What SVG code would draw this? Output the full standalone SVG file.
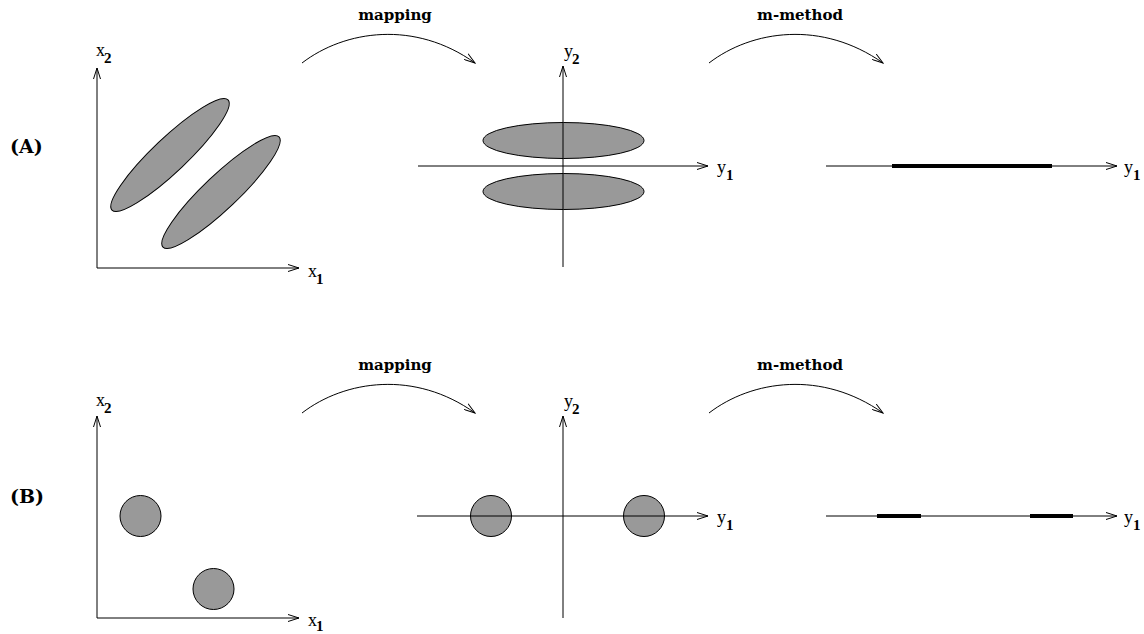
<svg xmlns="http://www.w3.org/2000/svg" width="1144" height="634" viewBox="0 0 1144 634">
<style>
.ax{stroke:#000;stroke-width:1;fill:none}
.arc{stroke:#000;stroke-width:1;fill:none}
.blob{fill:#999999;stroke:#000;stroke-width:1}
.thick{stroke:#000;stroke-width:4;fill:none}
.lbl{font-family:"DejaVu Serif","Liberation Serif",serif;font-weight:bold;font-size:19px;fill:#000}
.op{font-family:"DejaVu Serif","Liberation Serif",serif;font-weight:bold;font-size:15px;fill:#000}
.var{font-family:"Liberation Serif","DejaVu Serif",serif;font-size:18px;fill:#000}
.sub{font-family:"Liberation Serif","DejaVu Serif",serif;font-size:15px;font-weight:bold;fill:#000}
</style>
<defs>
<marker id="ah" viewBox="0 0 12 8" refX="11" refY="4" markerWidth="12" markerHeight="8" markerUnits="userSpaceOnUse" orient="auto">
<path d="M0,0.5 L11,4 L0,7.5" fill="none" stroke="#000" stroke-width="1"/>
</marker>
</defs>

<g id="labelA"><text class="lbl" x="10" y="153">(A)</text></g>
<g id="labelB"><text class="lbl" x="10" y="503">(B)</text></g>

<g id="panelA1">
<line class="ax" x1="97" y1="268" x2="97" y2="68" marker-end="url(#ah)"/>
<line class="ax" x1="97" y1="268" x2="299" y2="268" marker-end="url(#ah)"/>
<ellipse class="blob" cx="170" cy="155" rx="80" ry="17" transform="rotate(-43.5 170 155)"/>
<ellipse class="blob" cx="221" cy="192" rx="80" ry="17" transform="rotate(-43.5 221 192)"/>
<text class="var" x="96" y="56">x</text><text class="sub" x="104" y="63">2</text>
<text class="var" x="308" y="277">x</text><text class="sub" x="316" y="284">1</text>
</g>

<g id="panelA2">
<ellipse class="blob" cx="563.5" cy="140.5" rx="80.5" ry="18"/>
<ellipse class="blob" cx="563.5" cy="191.5" rx="80.5" ry="18"/>
<line class="ax" x1="563" y1="267" x2="563" y2="66" marker-end="url(#ah)"/>
<line class="ax" x1="418" y1="166" x2="708" y2="166" marker-end="url(#ah)"/>
<text class="var" x="564" y="57">y</text><text class="sub" x="572" y="64">2</text>
<text class="var" x="717" y="173">y</text><text class="sub" x="726" y="180">1</text>
</g>

<g id="panelA3">
<line class="ax" x1="826" y1="166" x2="1117" y2="166" marker-end="url(#ah)"/>
<line class="thick" x1="892" y1="166" x2="1052" y2="166"/>
<text class="var" x="1124" y="173">y</text><text class="sub" x="1133" y="180">1</text>
</g>

<g id="panelB1">
<line class="ax" x1="97" y1="618" x2="97" y2="416" marker-end="url(#ah)"/>
<line class="ax" x1="97" y1="618" x2="299" y2="618" marker-end="url(#ah)"/>
<circle class="blob" cx="140.5" cy="516" r="20.5"/>
<circle class="blob" cx="213.5" cy="589" r="20.5"/>
<text class="var" x="96" y="406">x</text><text class="sub" x="104" y="413">2</text>
<text class="var" x="308" y="626">x</text><text class="sub" x="316" y="631">1</text>
</g>

<g id="panelB2">
<circle class="blob" cx="491" cy="516" r="20.5"/>
<circle class="blob" cx="644" cy="516" r="20.5"/>
<line class="ax" x1="563" y1="618" x2="563" y2="416" marker-end="url(#ah)"/>
<line class="ax" x1="417" y1="516" x2="708" y2="516" marker-end="url(#ah)"/>
<text class="var" x="564" y="407">y</text><text class="sub" x="572" y="414">2</text>
<text class="var" x="717" y="523">y</text><text class="sub" x="726" y="530">1</text>
</g>

<g id="panelB3">
<line class="ax" x1="826" y1="516" x2="1117" y2="516" marker-end="url(#ah)"/>
<line class="thick" x1="877" y1="516" x2="921" y2="516"/>
<line class="thick" x1="1030" y1="516" x2="1073" y2="516"/>
<text class="var" x="1124" y="523">y</text><text class="sub" x="1133" y="530">1</text>
</g>

<g id="connectors">
<path class="arc" d="M302,63 C345,30 415,20 475,63" marker-end="url(#ah)"/>
<path class="arc" d="M709,63 C752,30 822,20 883,63" marker-end="url(#ah)"/>
<path class="arc" d="M302,413 C345,380 415,370 475,413" marker-end="url(#ah)"/>
<path class="arc" d="M709,413 C752,380 822,370 883,413" marker-end="url(#ah)"/>
<text class="op" x="395" y="20" text-anchor="middle">mapping</text>
<text class="op" x="800" y="20" text-anchor="middle">m-method</text>
<text class="op" x="395" y="370" text-anchor="middle">mapping</text>
<text class="op" x="800" y="370" text-anchor="middle">m-method</text>
</g>
</svg>
